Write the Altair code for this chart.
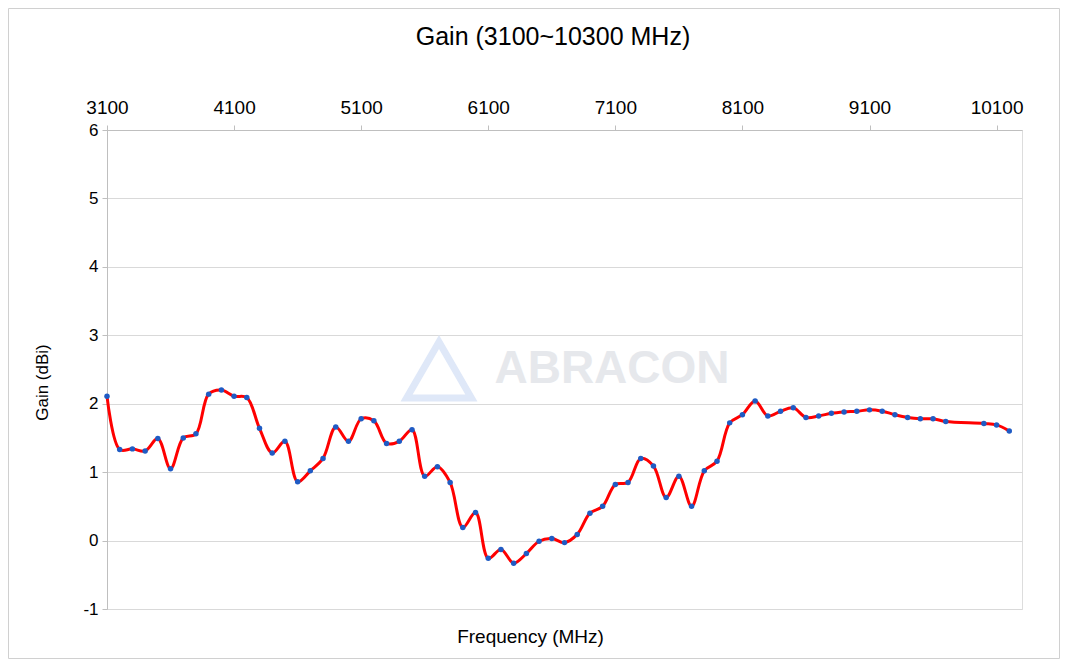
import altair as alt
import pandas as pd

freq = list(range(3100, 9800, 100)) + [10000, 10100, 10200]
gain = [2.11, 1.33, 1.34, 1.31, 1.49, 1.05, 1.50, 1.56, 2.14, 2.20,
        2.11, 2.09, 1.64, 1.28, 1.45, 0.86, 1.02, 1.20, 1.66, 1.45,
        1.78, 1.75, 1.42, 1.45, 1.62, 0.94, 1.08, 0.85, 0.19, 0.41,
        -0.26, -0.13, -0.33, -0.19, -0.01, 0.03, -0.03, 0.09, 0.40, 0.50,
        0.82, 0.85, 1.20, 1.09, 0.63, 0.94, 0.50, 1.02, 1.16, 1.72,
        1.84, 2.04, 1.82, 1.89, 1.94, 1.80, 1.82, 1.86, 1.88, 1.89,
        1.91, 1.89, 1.84, 1.80, 1.78, 1.78, 1.74, 1.71, 1.69, 1.60]
x_ticks = [3100, 4100, 5100, 6100, 7100, 8100, 9100, 10100]
y_ticks = [-1, 0, 1, 2, 3, 4, 5, 6]
watermark = ["ABRACON"]
chart_title = ["Gain (3100~10300 MHz)"]

FONT = "Liberation Sans"
df = pd.DataFrame({"freq": freq, "gain": gain})

xscale = alt.Scale(domain=[3100, 10300], nice=False, zero=False)
yscale = alt.Scale(domain=[-1, 6], nice=False)

yaxis = alt.Axis(values=y_ticks, title="Gain (dBi)", grid=True, gridColor="#D9D9D9",
                 gridWidth=1, domainColor="#BFBFBF", tickColor="#BFBFBF", tickSize=5,
                 labelFontSize=17, labelFont=FONT, labelColor="#000000", labelPadding=4,
                 labelExpr="'' + datum.value",
                 titleFont=FONT, titleFontSize=17, titleFontWeight="normal",
                 titleColor="#000000", titleX=-65, titleY=252, titleBaseline="middle")

base = alt.Chart(df)

line = base.mark_line(interpolate="catmull-rom", color="#FF0000", strokeWidth=3).encode(
    x=alt.X("freq:Q", scale=xscale,
            axis=alt.Axis(orient="top", values=x_ticks, format="d", title=None, grid=False,
                          domainColor="#BFBFBF", tickColor="#BFBFBF", tickSize=5,
                          labelFontSize=19, labelFont=FONT, labelColor="#000000",
                          labelPadding=8, labelFlush=False, labelOverlap=False)),
    y=alt.Y("gain:Q", scale=yscale, axis=yaxis),
)

points = base.mark_circle(color="#1F5BC4", size=30, opacity=1).encode(
    x=alt.X("freq:Q", scale=xscale,
            axis=alt.Axis(orient="bottom", title="Frequency (MHz)", labels=False, ticks=False,
                          domain=False, grid=False, titleFont=FONT, titleFontSize=19,
                          titleFontWeight="normal", titleColor="#000000",
                          titleX=423, titleY=27, titleBaseline="middle")),
    y=alt.Y("gain:Q", scale=yscale, axis=yaxis),
)

wm_df = pd.DataFrame({"t": watermark})
wm_text = alt.Chart(wm_df).mark_text(font=FONT, fontSize=46, fontWeight="bold",
                                     color="#E6E8EC", align="center", baseline="middle").encode(
    x=alt.value(505), y=alt.value(239), text="t:N")
wm_logo = alt.Chart(wm_df).mark_point(shape="triangle-up", size=4200, filled=False,
                                      stroke="#DFE8F8", strokeWidth=7, opacity=1).encode(
    x=alt.value(332), y=alt.value(240))
frame = alt.Chart(wm_df).mark_rect(fill=None, stroke="#D0D0D0", strokeWidth=1).encode(
    x=alt.value(-98.5), x2=alt.value(952.5), y=alt.value(-121.5), y2=alt.value(528.5))

title_df = pd.DataFrame({"t": chart_title})
title = alt.Chart(title_df).mark_text(font=FONT, fontSize=25, color="#000000",
                                      align="center", baseline="middle").encode(
    x=alt.value(446), y=alt.value(-93), text="t:N")

chart = alt.layer(frame, wm_logo, wm_text, title, line, points).resolve_axis(x="independent").properties(
    width=915, height=479,
    autosize=alt.AutoSizeParams(type="none"),
    padding={"left": 99, "top": 122, "right": 38, "bottom": 50},
).configure_view(stroke=None).configure(background="#FFFFFF")

chart.save("out.html", embed_options={"renderer": "svg", "actions": False})
